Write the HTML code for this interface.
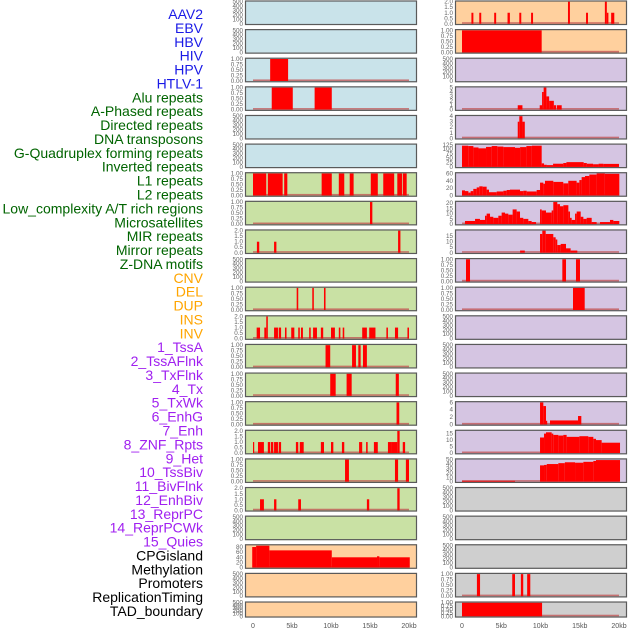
<!DOCTYPE html>
<html><head><meta charset="utf-8">
<style>
html,body{margin:0;padding:0;background:#fff;}
#wrap{position:relative;width:630px;height:630px;overflow:hidden;}
svg{position:absolute;left:0;top:0;}
</style></head>
<body>
<div id="wrap">
<svg id="chart" width="630" height="630" xmlns="http://www.w3.org/2000/svg"></svg>
</div>
<script>
// ---- data ----
const trackLabels = ["AAV2","EBV","HBV","HIV","HPV","HTLV-1",
"Alu repeats","A-Phased repeats","Directed repeats","DNA transposons","G-Quadruplex forming repeats","Inverted repeats","L1 repeats","L2 repeats","Low_complexity A/T rich regions","Microsatellites","MIR repeats","Mirror repeats","Z-DNA motifs",
"CNV","DEL","DUP","INS","INV",
"1_TssA","2_TssAFlnk","3_TxFlnk","4_Tx","5_TxWk","6_EnhG","7_Enh","8_ZNF_Rpts","9_Het","10_TssBiv","11_BivFlnk","12_EnhBiv","13_ReprPC","14_ReprPCWk","15_Quies",
"CPGisland","Methylation","Promoters","ReplicationTiming","TAD_boundary"];
const labelColors = ["#1a1ae6","#1a1ae6","#1a1ae6","#1a1ae6","#1a1ae6","#1a1ae6",
"#006400","#006400","#006400","#006400","#006400","#006400","#006400","#006400","#006400","#006400","#006400","#006400","#006400",
"#ffa500","#ffa500","#ffa500","#ffa500","#ffa500",
"#a020f0","#a020f0","#a020f0","#a020f0","#a020f0","#a020f0","#a020f0","#a020f0","#a020f0","#a020f0","#a020f0","#a020f0","#a020f0","#a020f0","#a020f0",
"#000","#000","#000","#000","#000"];

const xTickKb = [0,5,10,15,20];
const xTickLabels = ["0","5kb","10kb","15kb","20kb"];

const T500 = ["0","100","200","300","400","500"];
const T1 = ["0.00","0.25","0.50","0.75","1.00"];
const T2 = ["0.0","0.5","1.0","1.5","2.0"];

// left column
const leftBg = ["#c9e3ea","#c9e3ea","#c9e3ea","#c9e3ea","#c9e3ea","#c9e3ea",
"#c9e1a4","#c9e1a4","#c9e1a4","#c9e1a4","#c9e1a4","#c9e1a4","#c9e1a4","#c9e1a4","#c9e1a4","#c9e1a4","#c9e1a4","#c9e1a4","#c9e1a4",
"#ffd09e","#ffd09e","#ffd09e"];
const leftMax = [500,500,1,1,500,500,1,1,2,500,1,2,1,1,1,2,1,2,500,86,500,500];
const leftTicks = [T500,T500,T1,T1,T500,T500,T1,T1,T2,T500,T1,T2,T1,T1,T1,T2,T1,T2,T500,["0","20","40","60","80"],T500,T500];
// bars: [startKb, endKb, value]
const leftBars = [
 [],[],
 [[2.2,4.5,1]],
 [[2.4,5.1,1],[7.9,10.1,1]],
 [],[],
 [[0,1.7,1],[1.9,3.8,1],[4.0,4.4,1],[8.8,10.1,1],[11.0,11.7,1],[12.4,12.9,1],[15.1,16.0,1],[16.7,18.1,1],[18.5,19.1,1],[19.2,19.7,1]],
 [[15.0,15.3,1]],
 [[0.5,0.8,1],[2.7,3.0,1],[18.6,18.9,2]],
 [],
 [[5.6,5.8,1],[7.6,7.8,1],[9.1,9.3,1]],
 [[0.47,0.9,1],[1.45,1.7,1],[1.7,1.9,2],[2.7,3.2,1],[3.3,3.6,1],[4.1,4.3,1],[4.9,5.3,1],[5.8,6.0,1],[6.15,6.4,1],[7.2,7.4,1],[7.7,8.2,1],[8.7,9.0,1],[10.0,10.5,1],[11.0,11.2,1],[11.5,11.7,1],[14.0,14.6,1],[14.9,15.7,1],[17.1,17.3,1],[18.2,18.6,1],[19.8,20.0,1]],
 [[9.3,9.9,1],[12.7,13.2,1],[13.5,13.8,1],[14.1,14.6,1]],
 [[9.9,10.6,1],[12.0,12.65,1],[18.3,18.7,1]],
 [[18.4,18.75,1]],
 [[0,0.1,1],[0.64,1.4,1],[1.9,2.2,1],[2.3,2.6,1],[2.7,3.2,1],[3.3,3.6,1],[5.5,5.8,1],[6.0,6.5,1],[8.7,9.1,1],[10.0,10.3,1],[11.4,11.7,1],[13.6,14.0,1],[14.5,14.7,1],[15.5,16.0,1],[17.3,17.7,1],[17.7,18.5,1],[18.5,18.8,2],[19.2,19.5,1]],
 [[11.8,12.3,1],[18.2,18.6,1],[19.6,20.0,1]],
 [[0.9,1.4,1],[2.7,3.0,1],[5.8,6.15,1],[14.6,14.9,1],[18.5,18.8,2]],
 [],
 [[-0.1,0.4,80],[0.4,2.1,85],[2.1,10.1,67],[10.1,15.9,40],[15.9,16.2,44],[16.2,20.1,40]],
 [],[]
];

// right column
const rightBg = ["#ffd09e","#ffd09e",
"#d5c5e2","#d5c5e2","#d5c5e2","#d5c5e2","#d5c5e2","#d5c5e2","#d5c5e2","#d5c5e2","#d5c5e2","#d5c5e2","#d5c5e2","#d5c5e2","#d5c5e2","#d5c5e2","#d5c5e2",
"#cfcfcf","#cfcfcf","#cfcfcf","#cfcfcf","#cfcfcf"];
const rightMax = [2,1,500,5,4,125,60,21,20,1,1,500,500,500,6,17,50,500,500,500,1,1];
const rightTicks = [T2,T1,T500,["0","1","2","3","4","5"],["0","1","2","3","4"],["0","25","50","75","100","125"],["0","20","40","60"],["0","5","10","15","20"],["0","5","10","15"],T1,T1,T500,T500,T500,["0","2","4","6"],["0","5","10","15"],["0","10","20","30","40","50"],T500,T500,T500,T1,T1];
const rightBars = [
 [[1.2,1.45,1],[2.2,2.45,1],[4.1,4.35,1],[5.8,6.1,1],[7.3,7.55,1],[8.8,9.05,1],[13.5,13.75,2],[15.8,16.05,1],[18.2,18.45,2],[18.45,18.65,1],[19.0,19.4,1]],
 [[0,10.15,1]],
 [],
 [[7.1,7.7,1],[9.9,10.2,1],[10.2,10.4,4],[10.4,10.75,5],[10.75,11.1,3],[11.1,11.7,2],[11.7,12.0,1],[12.1,12.7,1]],
 [[7.1,7.3,3],[7.3,7.7,4],[7.7,8.0,3]],
 [[0,0.8,120],[0.8,1.45,118],[1.45,2.1,110],[2.1,3.06,105],[3.06,3.78,113],[3.78,4.5,118],[4.5,5.27,115],[5.27,6.75,112],[6.75,7.4,108],[7.4,8.2,112],[8.2,8.9,118],[8.9,10.15,120],[10.15,10.45,20],[10.45,10.8,12],[10.8,11.6,10],[11.6,12.9,18],[12.9,13.3,22],[13.3,15.5,27],[15.5,15.9,22],[15.9,16.7,18],[16.7,17.4,15],[17.4,18.0,18],[18.0,20.0,17]],
 [[0,0.38,14],[0.38,0.81,12],[0.81,1.1,8],[1.1,1.44,12],[1.44,1.87,18],[1.87,2.2,22],[2.2,2.63,25],[2.63,3.14,24],[3.14,3.44,16],[3.44,4.42,9],[4.42,5.27,11],[5.27,5.69,13],[5.69,6.11,15],[6.11,7.39,16],[7.39,7.81,12],[7.81,8.24,13],[8.24,9.51,11],[9.51,9.94,15],[9.94,10.36,35],[10.36,10.57,32],[10.57,11.63,40],[11.63,12.9,37],[12.9,13.54,33],[13.54,14.6,40],[14.6,14.95,35],[14.95,15.24,42],[15.24,15.67,50],[15.67,16.22,53],[16.22,17.15,57],[17.15,18.2,60],[18.2,20.04,59]],
 [[0.38,1.66,3],[1.66,2.29,5],[2.29,2.93,4],[2.93,3.14,8],[3.14,3.57,10],[3.57,3.99,7],[3.99,4.63,6],[4.63,5.05,8],[5.05,5.48,11],[5.48,5.9,10],[5.9,6.45,9],[6.45,6.96,14],[6.96,7.39,12],[7.39,7.81,6],[7.81,8.45,5],[8.45,8.87,3],[8.87,9.43,2],[9.94,10.15,14],[10.15,10.7,13],[10.7,11.42,11],[11.42,11.63,13],[11.63,12.14,21],[12.14,12.48,19],[12.48,12.91,17],[12.91,13.55,18],[13.55,13.76,12],[13.76,13.97,6],[13.97,14.4,4],[14.4,14.61,10],[14.61,15.12,12],[15.12,15.46,7],[15.46,15.88,5],[15.88,16.52,6],[16.52,17.15,2],[17.58,18.85,2],[18.85,19.28,4],[19.28,20.04,3]],
 [[7.4,8.0,2],[9.94,10.23,17],[10.23,10.66,20],[10.66,11.63,17],[11.63,11.93,14],[11.93,12.14,12],[12.14,12.57,7],[12.57,13.25,8],[13.25,13.84,4],[13.84,14.69,2]],
 [[0.51,1.02,1],[12.78,13.25,1],[14.52,15.03,1]],
 [[14.14,15.63,1]],
 [],[],[],
 [[9.94,10.36,6],[10.36,10.7,5],[10.7,10.8,1],[11.21,14.78,1.1],[14.78,15.2,2.3]],
 [[9.94,10.45,12],[10.45,10.7,15],[10.7,11.42,16],[11.42,11.63,15],[11.63,12.27,14],[12.27,12.91,13.5],[12.91,13.33,14],[13.33,14.95,12.5],[14.95,16.09,13],[16.09,16.73,12.5],[16.73,17.07,11],[17.07,17.79,10],[17.79,20.13,8]],
 [[0,6.75,2],[9.94,10.45,37],[10.45,10.8,38],[10.8,12.27,40],[12.27,13.1,42],[13.1,14.4,44],[14.4,15.46,43],[15.46,16.73,45],[16.73,17.07,47],[17.07,20.13,49]],
 [],[],[],
 [[1.9,2.3,1],[6.4,6.75,1],[7.5,7.8,1],[8.3,8.7,1]],
 [[0,10.2,1]]
];

// ---- drawing ----
const NS = "http://www.w3.org/2000/svg";
const svg = document.getElementById("chart");
function mk(tag, attrs, parent){ const e=document.createElementNS(NS,tag); for(const k in attrs) e.setAttribute(k,attrs[k]); (parent||svg).appendChild(e); return e; }

const ROW_STEP = 28.62;
function rowTop(i){ return 0.5 + i*ROW_STEP; }
function rowH(i){ return i===21 ? 16 : 24.5; }

const cols = [
 {x0:245, x1:417, kb0:253, kbScale:7.8, bg:leftBg, max:leftMax, ticks:leftTicks, bars:leftBars, name:"left"},
 {x0:455, x1:627, kb0:462, kbScale:7.85, bg:rightBg, max:rightMax, ticks:rightTicks, bars:rightBars, name:"right"}
];

cols.forEach((c)=>{
 for(let i=0;i<22;i++){
  const top=rowTop(i), h=rowH(i);
  const g = mk("g",{});
  
  
  const bgR = mk("rect",{x:c.x0,y:top,width:c.x1-c.x0,height:h,fill:c.bg[i]},g);
  
  
  const yb = top+h-1.2, yt = top+1.2;
  const yS = v => yb - (v/c.max[i])*(yb-yt);
  const xS = kb => c.kb0 + kb*c.kbScale;
  const bars = c.bars[i];
  if(bars.length){
   const bl = mk("rect",{x:xS(0),y:yb-1.6,width:xS(20)-xS(0),height:1.6,fill:"#c05050",opacity:0.75},g);
   
   
  }
  bars.forEach(b=>{
   const x=Math.max(c.x0,xS(b[0])), x2=Math.min(c.x1,xS(b[1]));
   const y=yS(b[2]);
   const r = mk("rect",{x:x,y:y,width:Math.max(1.2,x2-x),height:yb-y,fill:"#ff0000"},g);
   
   
  });
  mk("rect",{x:c.x0+0.5,y:top+0.5,width:c.x1-c.x0-1,height:h-1,fill:"none",stroke:"#5a5a5a","stroke-width":1.2},g);
  const tl = c.ticks[i];
  tl.forEach((t,k)=>{
   const v = k*(parseFloat(tl[tl.length-1])/(tl.length-1));
   const tx = mk("text",{x:c.x0-2,y:yS(v)+2,"text-anchor":"end","font-size":"6.3","font-family":"Liberation Sans, sans-serif",fill:"#666"},g);
   tx.textContent=t;
   
   
  });
 }
 xTickKb.forEach((kb,k)=>{
  const t = mk("text",{x:c.kb0+kb*c.kbScale,y:628,"text-anchor":"middle","font-size":"7","font-family":"Liberation Sans, sans-serif",fill:"#555"});
  t.textContent = xTickLabels[k];
  
  
 });
});

trackLabels.forEach((lab,i)=>{
 const y = 14 + i*((611-14)/43) + 5;
 const t = mk("text",{x:203,y:y,"text-anchor":"end","font-size":"14","font-family":"Liberation Sans, sans-serif",fill:labelColors[i]});
 t.textContent = lab;
 
 
});
</script>
</body></html>
